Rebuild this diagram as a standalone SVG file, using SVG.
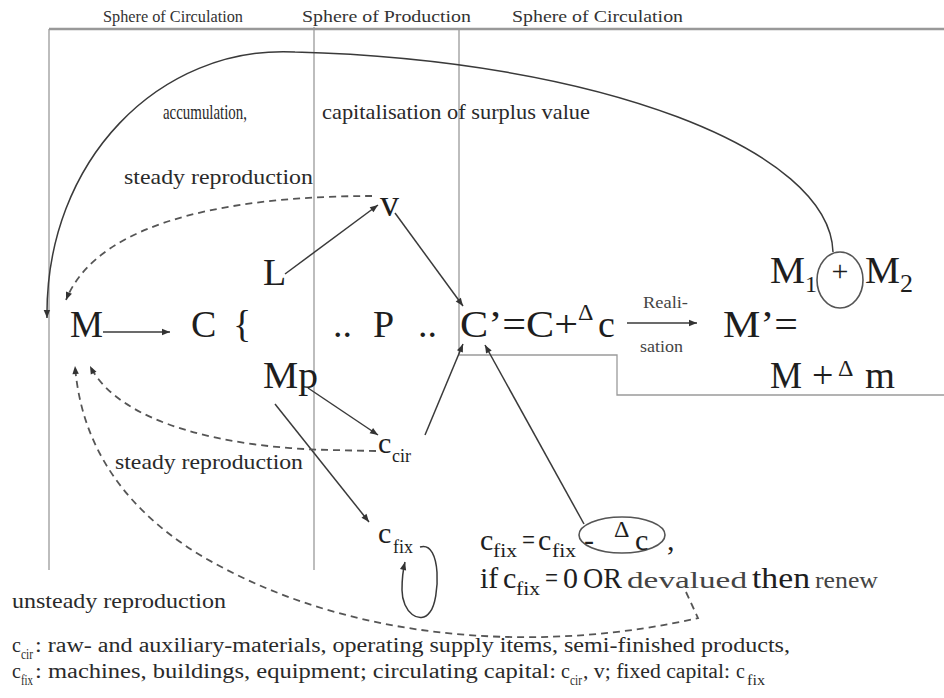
<svg xmlns="http://www.w3.org/2000/svg" width="944" height="698" viewBox="0 0 944 698">
<defs>
<style>
text{font-family:"Liberation Serif","Times New Roman",serif;fill:#1e1e1e}
.lbl{font-size:17px;fill:#333}
.mid{font-size:21px;fill:#2a2a2a}
.big{font-size:38px}
.sub{font-size:24px}
.eq{font-size:30px}
.lite{fill:#444}
.leg{font-size:20px;fill:#2a2a2a}
.ls{font-size:14px;fill:#2a2a2a}
.frame{fill:none;stroke:#9a9a9a;stroke-width:1.3}
.arr{fill:none;stroke:#3a3a3a;stroke-width:1.5}
.dash{fill:none;stroke:#555;stroke-width:1.8;stroke-dasharray:7 5}
.ell{fill:none;stroke:#555;stroke-width:1.6}
</style>
<marker id="ah" viewBox="0 0 10 10" refX="10" refY="5" markerWidth="10" markerHeight="8" markerUnits="userSpaceOnUse" orient="auto"><path d="M0,1 L10,5 L0,9 z" fill="#333"/></marker>
</defs>
<rect width="944" height="698" fill="#fff"/>

<g id="frame">
<line x1="49" y1="29" x2="944" y2="29" stroke="#999" stroke-width="2.5"/>
<line class="frame" x1="49" y1="29" x2="49" y2="570"/>
<line class="frame" x1="314" y1="27" x2="314" y2="570"/>
<polyline class="frame" points="459,29 459,355 617,355 617,395 944,395"/>
<text class="lbl" x="103" y="22" textLength="140" lengthAdjust="spacingAndGlyphs">Sphere of Circulation</text>
<text class="lbl" x="302" y="22" textLength="169" lengthAdjust="spacingAndGlyphs">Sphere of Production</text>
<text class="lbl" x="512" y="22" textLength="171" lengthAdjust="spacingAndGlyphs">Sphere of Circulation</text>
</g>

<g id="connectors">
<path class="arr" d="M833,252 C830,150 600,60 295,52 C160,45 45,160 47,318" marker-end="url(#ah)"/>
<line class="arr" x1="103" y1="332" x2="170" y2="332" marker-end="url(#ah)"/>
<line class="arr" x1="285" y1="274" x2="378" y2="205" marker-end="url(#ah)"/>
<line class="arr" x1="395" y1="213" x2="463" y2="306" marker-end="url(#ah)"/>
<line class="arr" x1="308" y1="388" x2="378" y2="435" marker-end="url(#ah)"/>
<line class="arr" x1="275" y1="404" x2="369" y2="522" marker-end="url(#ah)"/>
<line class="arr" x1="425" y1="435" x2="463" y2="344" marker-end="url(#ah)"/>
<line class="arr" x1="584" y1="524" x2="485" y2="345" marker-end="url(#ah)"/>
<line class="arr" x1="627" y1="323" x2="697" y2="323" marker-end="url(#ah)"/>
<path class="arr" d="M420,547 C442,540 440,600 430,612 C420,626 402,612 402,590 C402,578 403,570 405,562" marker-end="url(#ah)"/>
<path class="dash" d="M372,196 C250,196 100,215 66,300" marker-end="url(#ah)"/>
<path class="dash" d="M376,451 L330,450 C230,448 120,425 90,366" marker-end="url(#ah)"/>
<path class="dash" d="M686,592 L698,618 C560,650 360,650 200,555 C110,500 80,430 75,366" marker-end="url(#ah)"/>
</g>

<g id="node-M"><text class="big" x="70" y="337" textLength="33" lengthAdjust="spacingAndGlyphs">M</text></g>
<g id="node-C"><text class="big" x="191" y="337">C</text><text class="big" x="233" y="337">{</text></g>
<g id="node-L"><text class="big" x="263" y="285">L</text></g>
<g id="node-Mp"><text class="big" x="263" y="388" textLength="55" lengthAdjust="spacingAndGlyphs">Mp</text></g>
<g id="node-v"><text class="big" x="380" y="216">v</text></g>
<g id="node-P"><text class="big" x="333" y="337">..</text><text class="big" x="373" y="337">P</text><text class="big" x="418" y="337">..</text></g>
<g id="node-Cprime">
<text class="big" x="460" y="337" textLength="118" lengthAdjust="spacingAndGlyphs">C’=C+</text>
<text class="sub" x="578" y="320">Δ</text>
<text class="big" x="598" y="337">c</text>
</g>
<g id="label-realisation">
<text class="lite" x="643" y="308" font-size="17" textLength="45" lengthAdjust="spacingAndGlyphs">Reali-</text>
<text class="lite" x="640" y="352" font-size="17" textLength="43" lengthAdjust="spacingAndGlyphs">sation</text>
</g>
<g id="node-Mprime">
<text class="big" x="723" y="337" textLength="75" lengthAdjust="spacingAndGlyphs">M’=</text>
<text class="big" x="770" y="388" textLength="32" lengthAdjust="spacingAndGlyphs">M</text>
<text class="big" x="812" y="388" font-size="32">+</text>
<text class="sub" x="838" y="376">Δ</text>
<text class="big" x="865" y="388" textLength="30" lengthAdjust="spacingAndGlyphs">m</text>
</g>
<g id="node-M1M2">
<ellipse class="ell" cx="840" cy="280" rx="23" ry="28"/>
<text class="big" x="770" y="283" textLength="35" lengthAdjust="spacingAndGlyphs">M</text>
<text x="805" y="292" font-size="24">1</text>
<text x="840" y="281" font-size="30" text-anchor="middle">+</text>
<text class="big" x="865" y="283" textLength="35" lengthAdjust="spacingAndGlyphs">M</text>
<text x="900" y="292" font-size="26">2</text>
</g>
<g id="node-ccir"><text class="eq" x="378" y="453">c</text><text x="392" y="462" font-size="18">cir</text></g>
<g id="node-cfix"><text class="eq" x="378" y="543">c</text><text x="393" y="553" font-size="18">fix</text></g>

<g id="node-formula">
<ellipse class="ell" cx="622" cy="535" rx="43" ry="18"/>
<text class="eq" x="480" y="550">c</text>
<text x="493" y="557" font-size="18" textLength="24" lengthAdjust="spacingAndGlyphs">fix</text>
<text class="eq" x="522" y="550" textLength="13" lengthAdjust="spacingAndGlyphs">=</text>
<text class="eq" x="538" y="550">c</text>
<text x="552" y="557" font-size="18" textLength="24" lengthAdjust="spacingAndGlyphs">fix</text>
<text class="eq" x="584" y="550">-</text>
<text class="sub" x="614" y="537">Δ</text>
<text class="eq" x="635" y="550">c</text>
<text class="eq" x="667" y="550">,</text>
<text class="eq" x="480" y="588">if</text>
<text class="eq" x="503" y="588">c</text>
<text x="516" y="595" font-size="18" textLength="24" lengthAdjust="spacingAndGlyphs">fix</text>
<text class="eq" x="545" y="588" textLength="13" lengthAdjust="spacingAndGlyphs">=</text>
<text class="eq" x="563" y="588">0</text>
<text class="eq" x="583" y="588" textLength="39" lengthAdjust="spacingAndGlyphs">OR</text>
<text class="lite" x="627" y="588" font-size="23" textLength="120" lengthAdjust="spacingAndGlyphs">devalued</text>
<text class="eq" x="752" y="588" textLength="58" lengthAdjust="spacingAndGlyphs">then</text>
<text class="lite" x="815" y="588" font-size="23" textLength="63" lengthAdjust="spacingAndGlyphs">renew</text>
</g>

<g id="labels">
<text class="mid" x="163" y="119" textLength="84" lengthAdjust="spacingAndGlyphs">accumulation,</text>
<text class="mid" x="322" y="119" textLength="268" lengthAdjust="spacingAndGlyphs">capitalisation of surplus value</text>
<text class="mid" x="124" y="184" font-size="22" textLength="189" lengthAdjust="spacingAndGlyphs">steady reproduction</text>
<text class="mid" x="115" y="469" font-size="22" textLength="188" lengthAdjust="spacingAndGlyphs">steady reproduction</text>
<text class="mid" x="12" y="608" font-size="22" textLength="214" lengthAdjust="spacingAndGlyphs">unsteady reproduction</text>
</g>

<g id="legend">
<text class="leg" x="12" y="652">c</text>
<text class="ls" x="21" y="659" textLength="12" lengthAdjust="spacingAndGlyphs">cir</text>
<text class="leg" x="35" y="652" textLength="755" lengthAdjust="spacingAndGlyphs">: raw- and auxiliary-materials, operating supply items, semi-finished products,</text>
<text class="leg" x="12" y="678">c</text>
<text class="ls" x="21" y="685" textLength="12" lengthAdjust="spacingAndGlyphs">fix</text>
<text class="leg" x="35" y="678" textLength="521" lengthAdjust="spacingAndGlyphs">: machines, buildings, equipment; circulating capital:</text>
<text class="leg" x="561" y="678">c</text>
<text class="ls" x="570" y="685" textLength="12" lengthAdjust="spacingAndGlyphs">cir</text>
<text class="leg" x="583" y="678" textLength="147" lengthAdjust="spacingAndGlyphs">, v; fixed capital:</text>
<text class="leg" x="736" y="678">c</text>
<text class="ls" x="747" y="685" textLength="18" lengthAdjust="spacingAndGlyphs">fix</text>
</g>
</svg>
